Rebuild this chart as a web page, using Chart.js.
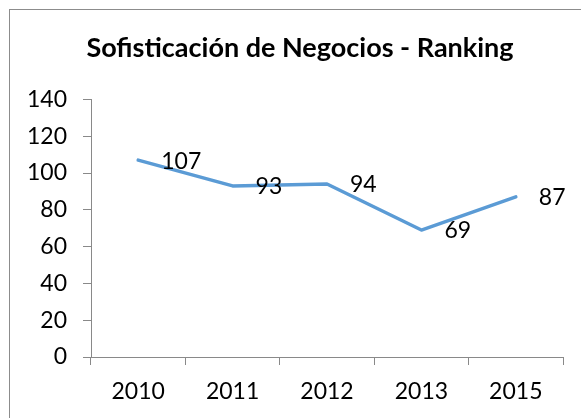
<!DOCTYPE html>
<html>
<head>
<meta charset="utf-8">
<script src="https://cdn.jsdelivr.net/npm/chart.js@4.4.1/dist/chart.umd.min.js"></script>
<style>
  html, body { margin: 0; padding: 0; background: #fff; }
  #wrap { width: 581px; height: 418px; }
</style>
</head>
<body>
<div id="wrap"><canvas id="rankingChart" width="581" height="418"></canvas></div>
<script>
// Chart data
const years = ['2010', '2011', '2012', '2013', '2015'];
const ranking = [107, 93, 94, 69, 87];
const yTicks = [0, 20, 40, 60, 80, 100, 120, 140];

const FONT = 'Lato, "Open Sans", sans-serif';
const AXIS_GRAY = '#898989';

// Outer frame like the Excel chart area
const frame = {
    id: 'frame',
    beforeDraw(chart) {
        const ctx = chart.ctx;
        ctx.save();
        ctx.fillStyle = '#fff';
        ctx.fillRect(0, 0, chart.width, chart.height);
        ctx.strokeStyle = '#8c8c8c';
        ctx.lineWidth = 1;
        ctx.strokeRect(9.5, 9.5, chart.width + 20, chart.height + 20);
        ctx.restore();
    }
};

// Value labels to the right of each point
const pointLabels = {
    id: 'pointLabels',
    afterDatasetsDraw(chart) {
        const ctx = chart.ctx;
        const meta = chart.getDatasetMeta(0);
        ctx.save();
        ctx.font = '23px ' + FONT;
        ctx.fillStyle = '#000';
        ctx.textAlign = 'left';
        ctx.textBaseline = 'middle';
        meta.data.forEach((pt, i) => {
            ctx.fillText(String(ranking[i]), pt.x + 23, pt.y + 1);
        });
        ctx.restore();
    }
};

new Chart(document.getElementById('rankingChart'), {
    type: 'line',
    data: {
        labels: years,
        datasets: [{
            data: ranking,
            borderColor: '#5b9bd5',
            borderWidth: 3.5,
            borderJoinStyle: 'round',
            borderCapStyle: 'round',
            pointRadius: 0,
            tension: 0,
            fill: false
        }]
    },
    options: {
        responsive: false,
        animation: false,
        layout: { padding: { left: 19, right: 0, top: 0, bottom: 0 } },
        plugins: {
            legend: { display: false },
            tooltip: { enabled: false },
            title: {
                display: true,
                text: 'Sofisticación de Negocios - Ranking',
                color: '#000',
                font: { family: FONT, size: 27, weight: 'bold' },
                padding: { top: 32, bottom: 35 }
            }
        },
        scales: {
            x: {
                offset: true,
                grid: {
                    offset: true,
                    drawOnChartArea: false,
                    drawTicks: true,
                    tickLength: 8,
                    color: AXIS_GRAY
                },
                border: { color: AXIS_GRAY, width: 1 },
                ticks: {
                    color: '#000',
                    font: { family: FONT, size: 23 },
                    padding: 13,
                    maxRotation: 0
                },
                afterFit(scale) { scale.height = 61; }
            },
            y: {
                min: 0,
                max: 140,
                grid: {
                    drawOnChartArea: false,
                    drawTicks: true,
                    tickLength: 8,
                    color: AXIS_GRAY
                },
                border: { color: AXIS_GRAY, width: 1 },
                ticks: {
                    color: '#000',
                    font: { family: FONT, size: 23 },
                    padding: 16
                },
                afterBuildTicks(scale) {
                    scale.ticks = yTicks.map(v => ({ value: v }));
                },
                afterFit(scale) { scale.width = 72; }
            },
            // empty right-hand box so the plot ends where the original does
            spacer: {
                position: 'right',
                display: true,
                grid: { display: false, drawTicks: false },
                border: { display: false },
                ticks: { display: false },
                afterFit(scale) { scale.width = 18; }
            }
        }
    },
    plugins: [frame, pointLabels]
});
</script>
</body>
</html>
